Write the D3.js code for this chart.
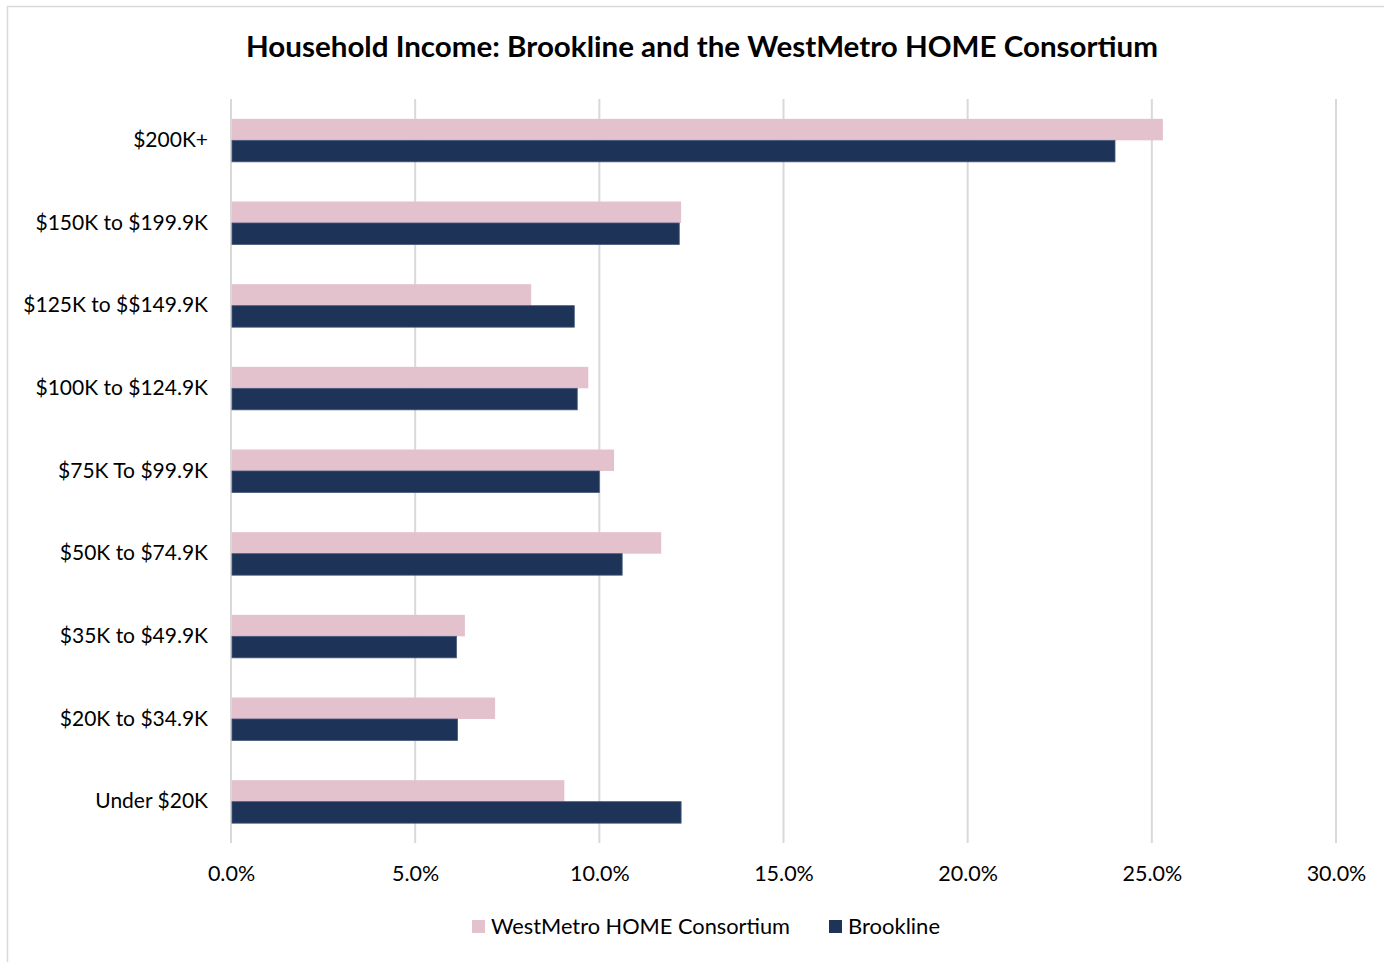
<!DOCTYPE html>
<html><head><meta charset="utf-8">
<script src="https://cdn.jsdelivr.net/npm/d3@7"></script>
<style>body{margin:0;background:#fff;} svg{display:block;font-family:Lato,"Open Sans",sans-serif;}</style>
</head><body>
<svg id="chart" width="1384" height="962"></svg>
<script>
const categories = ["$200K+","$150K to $199.9K","$125K to $$149.9K","$100K to $124.9K","$75K To $99.9K","$50K to $74.9K","$35K to $49.9K","$20K to $34.9K","Under $20K"];
const westMetro = [25.3, 12.22, 8.15, 9.7, 10.4, 11.68, 6.35, 7.17, 9.05];
const brookline = [24.0, 12.17, 9.32, 9.4, 10.0, 10.62, 6.12, 6.15, 12.22];
const xTicks = [0,5,10,15,20,25,30];
const seriesNames = ["WestMetro HOME Consortium","Brookline"];
const colors = ["#E3C2CE","#1D3358"];

const svg = d3.select("#chart");
svg.append("rect").attr("x",7.5).attr("y",6.5).attr("width",1400).attr("height",1000)
  .attr("fill","#fff").attr("stroke","#d9d9d9").attr("stroke-width",1.5);

const x = d3.scaleLinear().domain([0,30]).range([231,1336]);
const y = d3.scaleBand().domain(categories).range([99,843]).paddingInner(0).paddingOuter(0);
const barH = 21.5;

svg.append("text").attr("x",702).attr("y",57).attr("text-anchor","middle")
  .attr("font-weight","bold").attr("font-size",28).attr("fill","#000")
  .attr("textLength",912).attr("lengthAdjust","spacingAndGlyphs")
  .text("Household Income: Brookline and the WestMetro HOME Consortium");

// grid
svg.append("g").selectAll("line").data(xTicks).join("line")
  .attr("x1",d=>x(d)).attr("x2",d=>x(d)).attr("y1",99).attr("y2",843)
  .attr("stroke","#d9d9d9").attr("stroke-width",2);

const data = categories.map((c,i)=>({c, v:[westMetro[i], brookline[i]]}));
const g = svg.append("g");
[0,1].forEach(s=>{
  g.selectAll(".b"+s).data(data).join("rect")
    .attr("x",x(0)+1)
    .attr("y",d=>y(d.c)+y.bandwidth()/2 - barH + s*barH)
    .attr("width",d=>x(d.v[s])-x(0)-1)
    .attr("height",barH)
    .attr("fill",colors[s])
    .attr("stroke", s===1?"#44587a":"none").attr("stroke-width",0.8);
});

// category labels
const yAxis = d3.axisLeft(y).tickSize(0).tickPadding(0);
const ya = svg.append("g").attr("transform","translate(208,0)").call(yAxis);
ya.select(".domain").remove();
ya.selectAll("text").attr("font-size",21).attr("fill","#000").attr("font-family","Lato,'Open Sans',sans-serif");

// x axis labels
const xAxis = d3.axisBottom(x).tickValues(xTicks).tickSize(0).tickPadding(0).tickFormat(d=>d3.format(".1f")(d)+"%");
const xa = svg.append("g").attr("transform","translate(0,866)").call(xAxis);
xa.select(".domain").remove();
xa.selectAll("text").attr("font-size",21.5).attr("fill","#000").attr("dy","0.71em").attr("font-family","Lato,'Open Sans',sans-serif");

// legend
const leg = svg.append("g");
const legX = [472, 829];
const legLen = [299, 92];
seriesNames.forEach((n,i)=>{
  leg.append("rect").attr("x",legX[i]).attr("y",920).attr("width",13).attr("height",13).attr("fill",colors[i]);
  leg.append("text").attr("x",legX[i]+19).attr("y",934).attr("font-size",21)
    .attr("textLength",legLen[i]).attr("lengthAdjust","spacingAndGlyphs").attr("fill","#000").text(n);
});
</script>
</body></html>
